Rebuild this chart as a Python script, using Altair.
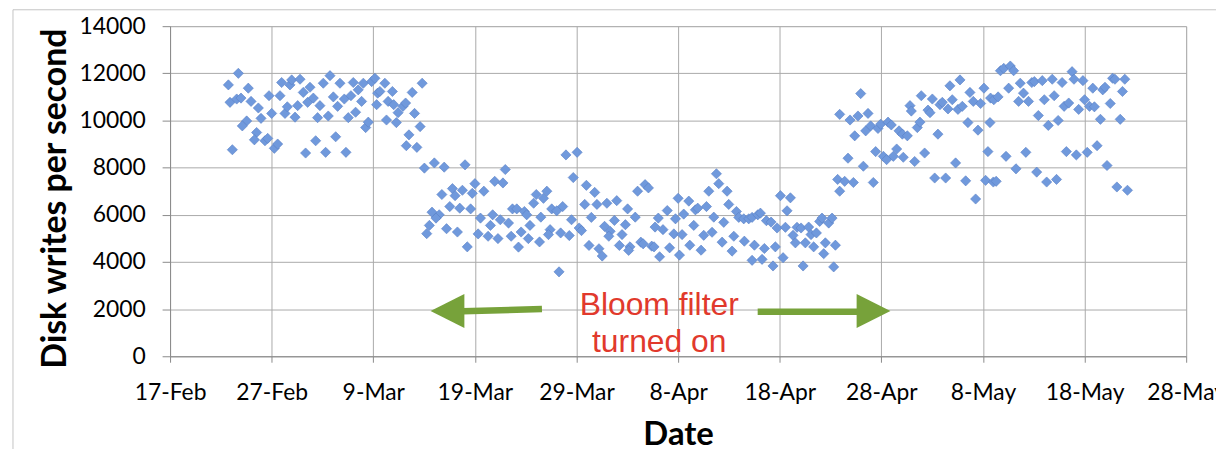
import altair as alt
import pandas as pd

# Day offset (days after 17-Feb) and disk writes per second
days = [
    5.74, 6.72, 6.13, 5.90, 6.56, 6.98, 7.70, 7.54, 7.11, 7.97, 8.69, 8.52, 8.30, 8.95, 9.34, 9.61,
    9.74, 10.00, 10.26, 10.59, 10.82, 10.98, 11.31, 11.54, 11.80, 11.97, 12.30, 12.56, 12.79, 13.11,
    13.34, 13.54, 13.77, 14.10, 14.33, 14.52, 14.75, 15.08, 15.31, 15.57, 15.74, 16.07, 16.30, 16.49,
    16.72, 17.15, 17.31, 17.54, 17.80, 18.03, 18.26, 18.52, 18.85, 19.02, 19.25, 19.51, 19.84, 20.16,
    20.33, 20.43,
    20.65, 21.14, 21.46, 21.88, 22.01, 21.30, 22.27, 22.44, 22.92, 23.18, 23.83, 24.06, 24.81, 24.61,
    23.51, 23.25, 24.29, 25.03, 26.01, 26.98, 29.03, 32.99, 26.75, 27.79, 28.05, 28.77, 29.74, 30.00,
    30.88, 31.95, 32.76, 27.53, 28.51, 29.58, 25.78, 26.49, 26.17, 25.52, 25.26, 27.21, 28.28, 29.25,
    30.55, 31.53, 31.75, 32.50, 33.31, 33.70, 34.12, 34.87, 35.10, 30.32, 31.30, 32.27, 33.57, 34.55,
    35.26, 34.29, 35.42,
    35.78, 36.04, 36.75, 37.08, 36.49, 36.36, 37.56, 38.05, 38.64, 37.40, 37.24, 38.44, 39.29, 39.51,
    38.96, 40.06, 39.68, 40.97, 41.79, 40.81, 42.01, 42.99, 43.96, 45.03, 45.78, 41.46, 40.26, 40.49,
    42.76, 43.73, 44.81, 43.31, 43.18, 44.48, 41.23, 42.21, 42.53, 44.22, 45.26, 45.13, 46.33, 46.56,
    47.40, 47.63, 48.18, 49.16, 50.13, 46.01, 46.75, 47.08, 48.05, 48.51, 47.73, 48.93, 49.58, 50.00,
    49.74, 50.55, 50.39, 38.28,
    51.05, 51.70, 51.93, 52.79, 53.02, 53.77, 54.00, 54.82, 54.98, 55.74, 55.97, 56.46, 56.95, 57.28,
    57.84, 58.10, 58.69, 59.15, 59.74, 60.07, 61.05, 60.72, 60.56, 53.51, 54.49, 51.54, 52.52, 53.34,
    55.48, 51.15, 52.26, 54.33, 55.31, 56.52, 57.51, 58.49, 59.57, 57.28, 58.26, 59.34, 60.33, 61.31,
    61.54, 61.70, 62.10, 62.52, 62.85, 63.08, 63.34, 63.61, 63.93, 64.16, 64.82, 65.15, 64.33, 64.49,
    65.48, 62.30, 65.31, 65.90, 65.70, 65.90,
    66.92, 67.70, 67.97, 68.69, 67.38, 68.46, 68.95, 69.67, 69.93, 70.66, 70.98, 71.74, 72.07, 72.56,
    72.82, 72.95, 73.54, 73.80, 73.93, 74.59, 74.79, 75.02, 75.57, 75.77, 76.00, 76.56, 76.75, 76.98,
    77.54, 77.74, 77.97, 78.52, 78.72, 79.05, 79.51, 79.77, 80.10, 80.75, 80.69, 80.49, 66.72, 68.23,
    69.44, 70.20, 70.52, 71.18, 71.51, 72.16, 73.28, 74.26, 77.31, 66.39, 67.25, 69.21, 75.25, 76.33,
    78.30, 80.26, 79.28, 81.02,
    81.07, 81.49, 81.30, 81.72, 82.05, 82.69, 83.02, 82.53, 82.27, 83.25, 83.67, 83.99, 83.51, 84.48,
    84.22, 84.81, 85.06, 85.45, 85.29, 85.84, 86.04, 86.27, 86.43, 86.82, 87.01, 87.24, 87.40, 87.79,
    87.99, 88.21, 88.44, 88.77, 88.96, 89.19, 89.42, 89.84, 90.00, 90.26, 90.49, 90.81, 90.97, 91.23,
    91.56, 91.79, 92.01, 92.21, 92.53, 92.76, 92.99, 93.18, 93.51, 93.73, 93.96, 94.22,
]

writes = [
    11510, 12000, 8760, 10770, 10910, 10950, 11370, 9980, 9770, 10810, 10530, 9490, 9180, 10090, 9140, 9240,
    11050, 10300, 8820, 9000, 11050, 11610, 10300, 10580, 11510, 11720, 10140, 10630, 11750, 11190,
    8620, 10770, 11410, 10950, 9140, 10120, 10630, 11580, 8650, 10190, 11900, 11000, 9310, 10600,
    11580, 10910, 8650, 10120, 11050, 11610, 10350, 11300, 10810, 11580, 9700, 9930, 11650, 11790,
    10670, 11160,
    11230, 11580, 10810, 11230, 10670, 10020, 9910, 10330, 10600, 10740, 11190, 10300, 11580, 9740,
    9390, 8930, 8860, 7980, 8200, 8020, 8120, 7920, 6860, 7110, 6810, 7040, 6910, 7320,
    7000, 7420, 7350, 6350, 6280, 6250, 6110, 6000, 5860, 5550, 5200, 5410, 5270, 4640,
    5860, 5550, 6000, 5790, 5650, 6250, 6250, 6140, 6000, 5190, 5090, 4990, 5090, 5270,
    4990, 4630, 5550,
    6490, 6860, 6700, 7000, 5900, 4850, 6250, 6170, 6350, 5370, 5160, 5230, 5120, 5790,
    8540, 8650, 7580, 7250, 6950, 6440, 6440, 6490, 6600, 6250, 5900, 5890, 5440, 5330,
    5510, 5760, 5580, 5300, 5090, 5160, 4700, 4560, 4250, 4700, 4640, 4490, 4840, 4770,
    4670, 4640, 4220, 4600, 4290, 7000, 7280, 7140, 5860, 5370, 5480, 6180, 5190, 6700,
    5830, 6030, 5160, 3580,
    6580, 6210, 6280, 6350, 7000, 7740, 7320, 7000, 6440, 6140, 5890, 5830, 5830, 5890,
    6000, 6070, 5750, 5690, 5440, 6810, 6720, 6170, 5470, 5900, 5680, 5550, 5130, 5260,
    5090, 4710, 4500, 4840, 4460, 4880, 4710, 4570, 4640, 4070, 4110, 3830, 4180, 5130,
    4810, 5470, 5440, 4810, 5480, 5160, 4640, 5230, 5720, 5860, 5650, 5860, 4350, 4810,
    4710, 3830, 3790, 10260, 7500, 7000,
    10020, 10190, 11140, 10300, 9350, 9560, 9770, 9660, 9840, 9930, 9810, 9560, 9420, 9350,
    10630, 10400, 9700, 9930, 11050, 10440, 10330, 10910, 9420, 10670, 10770, 10490, 11470, 10880,
    10470, 11720, 10600, 9910, 11190, 10810, 9590, 10720, 11370, 10950, 9910, 8680, 8400, 8060,
    8680, 8480, 8340, 8480, 8790, 8440, 8260, 8620, 8200, 7420, 7370, 7370, 7560, 7560,
    7440, 7460, 6670, 7390,
    10880, 11000, 7420, 12110, 12210, 12310, 12110, 11370, 8480, 7950, 11580, 11160, 10810, 10810,
    8650, 11610, 11650, 10210, 7810, 11690, 10880, 7390, 9790, 11750, 11050, 7500, 10000, 11610,
    10600, 8680, 10740, 12070, 11750, 8540, 10470, 11690, 10880, 8650, 10600, 11370, 10580, 8930,
    10050, 11300, 11410, 8090, 10720, 11790, 11750, 7180, 10050, 11230, 11750, 7040,
]

x_ticks = list(range(0, 101, 10))
x_labels = ["17-Feb", "27-Feb", "9-Mar", "19-Mar", "29-Mar", "8-Apr",
            "18-Apr", "28-Apr", "8-May", "18-May", "28-May"]
y_ticks = list(range(0, 14001, 2000))

note_lines = ["Bloom filter", "turned on"]

df = pd.DataFrame({"day": days, "writes": writes})

label_expr = "[" + ",".join("'%s'" % s for s in x_labels) + "][round(datum.value / 10)]"

GRID = "#a9a9a9"
AXIS = "#8a8a8a"

x_scale = alt.Scale(domain=[0, 100], nice=False, zero=False)
y_scale = alt.Scale(domain=[0, 14000], nice=False)

points = alt.Chart(df).mark_point(
    shape="diamond", filled=True, size=105, color="#7099dc",
    stroke="#5a80c6", strokeWidth=0.6, opacity=1,
).encode(
    x=alt.X("day:Q", scale=x_scale, axis=alt.Axis(
        values=x_ticks, labelExpr=label_expr, title="Date",
        titleFont="Lato", titleFontSize=33, titleFontWeight="bold", titleColor="#000",
        titleY=89, titleBaseline="alphabetic",
        labelFont="Lato", labelFontSize=23, labelColor="#000", labelPadding=19,
        labelFlush=False, labelOverlap=False, labelBound=False,
        tickSize=6, tickColor=AXIS, domainColor=AXIS, gridColor=GRID, gridWidth=1,
    )),
    y=alt.Y("writes:Q", scale=y_scale, axis=alt.Axis(
        values=y_ticks, format="d", title="Disk writes per second",
        titleFont="Lato", titleFontSize=34, titleFontWeight="bold", titleColor="#000",
        titleAngle=270, titleX=-105, titleY=173, titleBaseline="alphabetic", titleAlign="center",
        labelFont="Lato", labelFontSize=23, labelColor="#000", labelPadding=17,
        labelOverlap=False,
        tickSize=8, tickColor=AXIS, domainColor=AXIS, gridColor=GRID, gridWidth=1,
    )),
)

# annotation: text and arrows placed in data coordinates
note_df = pd.DataFrame({"day": [48.14, 48.14], "writes": [1771, 169], "text": note_lines})
note = alt.Chart(note_df).mark_text(
    font="Liberation Sans", fontSize=32, color="#e1392c", align="center", baseline="alphabetic",
).encode(x=alt.X("day:Q", scale=x_scale), y=alt.Y("writes:Q", scale=y_scale), text="text:N")

shaft_df = pd.DataFrame({
    "x1": [28.8, 57.83], "x2": [36.6, 67.8],
    "y1": [1905, 1885], "y2": [2005, 1885],
})
shafts = alt.Chart(shaft_df).mark_rule(color="#77a23a", strokeWidth=6.5, strokeCap="butt").encode(
    x=alt.X("x1:Q", scale=x_scale), x2="x2:Q",
    y=alt.Y("y1:Q", scale=y_scale), y2="y2:Q",
)

head_l = alt.Chart(pd.DataFrame({"day": [27.30], "writes": [1919]})).mark_point(
    shape="M-1,0L1,-1L1,1Z", filled=True, size=1156, color="#77a23a", opacity=1, strokeWidth=0,
).encode(x=alt.X("day:Q", scale=x_scale), y=alt.Y("writes:Q", scale=y_scale))

head_r = alt.Chart(pd.DataFrame({"day": [69.23], "writes": [1919]})).mark_point(
    shape="M1,0L-1,-1L-1,1Z", filled=True, size=1156, color="#77a23a", opacity=1, strokeWidth=0,
).encode(x=alt.X("day:Q", scale=x_scale), y=alt.Y("writes:Q", scale=y_scale))

frame = alt.Chart(pd.DataFrame({"a": [0]})).mark_rect(
    fillOpacity=0, stroke="#c4c4c4", strokeWidth=1,
).encode(
    x=alt.value(-158), x2=alt.value(1300), y=alt.value(-16.5), y2=alt.value(600),
)

chart = alt.layer(frame, points, shafts, head_l, head_r, note).properties(
    width=1022, height=332,
    padding={"left": 163, "top": 17, "right": 30, "bottom": 92},
    autosize=alt.AutoSizeParams(type="none"),
).configure_view(strokeWidth=0).configure(background="white")

chart.save("out.html", embed_options={"renderer": "svg", "actions": False})
